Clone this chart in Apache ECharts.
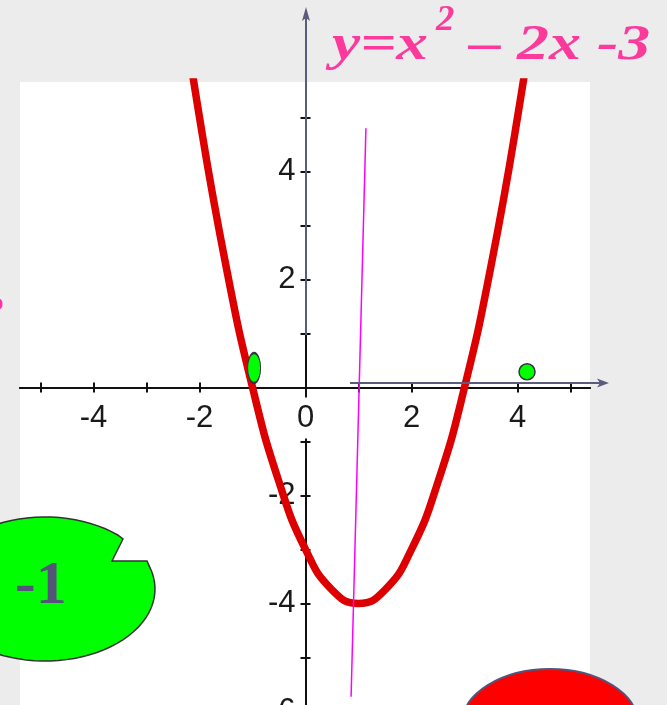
<!DOCTYPE html>
<html>
<head>
<meta charset="utf-8">
<script src="https://cdn.jsdelivr.net/npm/echarts@6/dist/echarts.min.js"></script>
<style>
  html, body { margin: 0; padding: 0; overflow: hidden; background: #ececec; }
</style>
</head>
<body>
<div id="chart" style="width: 667px; height: 760px"></div>

<script>
	// axis ticks and labels
	const xTickValues = [-5, -4, -3, -2, -1, 0, 1, 2, 3, 4, 5];
	const xLabelValues = [-4, -2, 0, 2, 4];
	const yTickValues = [-6, -5, -4, -3, -2, -1, 0, 1, 2, 3, 4, 5];
	const yLabelValues = [-6, -4, -2, 2, 4];

	// red parabola, points
	const curveX = [-2.5, -2, -1.5, -1, -0.5, 0, 0.5, 1, 1.5, 2, 2.5, 3, 3.5, 4, 4.5];
	const curveY = [8.25, 5, 2.25, 0, -1.75, -3, -3.75, -4, -3.75, -3, -1.75, 0, 2.25, 5, 8.25];

	// magenta axis of symmetry stroke
	const symX = [1.14, 0.86];
	const symY = [4.8, -5.73];

	// green markers
	const dotX = [-0.97, 4.18];
	const dotY = [0.36, 0.29];

	const zip = (a, b) => a.map((v, i) => [v, b[i]]);

	var chart = echarts.init(document.getElementById('chart'));

	var axisColor = '#111';
	var slate = '#5b5b7b';
	var pink = '#fb3a9c';
	var labelFont = { fontFamily: 'Liberation Sans', fontSize: 31, color: '#1a1a1a' };
	var gridBox = { left: 20, right: 77, top: 82, bottom: 0, outerBoundsMode: 'none', containLabel: false };
	var xMin = -5.387, xMax = 5.368, yMin = -6.9, yMax = 5.657;
	// axes cross at the origin: shift them in from the grid edges
	var xOffset = -(678 * (0 - yMin) / (yMax - yMin));
	var yOffset = -(570 * (0 - xMin) / (xMax - xMin));

	// two grids on the same box: one draws ticks below/left, the other above/right
	function xAxisDef(grid, inside, labels) {
		return {
			type: 'value', gridIndex: grid, min: xMin, max: xMax, z: labels ? 2 : 1,
			position: 'bottom', offset: xOffset,
			axisLine: { onZero: false, lineStyle: { color: axisColor, width: 2 } },
			axisTick: { inside: inside, length: 5, customValues: xTickValues, lineStyle: { color: axisColor, width: 2 } },
			axisLabel: labels ? Object.assign({
				customValues: xLabelValues, margin: 10,
				backgroundColor: '#fff', padding: [6, 3, 4, 3]
			}, labelFont) : { show: false },
			splitLine: { show: false }
		};
	}

	function yAxisDef(grid, inside, labels) {
		return {
			type: 'value', gridIndex: grid, min: yMin, max: yMax, z: 0,
			position: 'left', offset: yOffset,
			axisLine: { onZero: false, lineStyle: { color: axisColor, width: 2 } },
			axisTick: { inside: inside, length: 5, customValues: yTickValues, lineStyle: { color: axisColor, width: 2 } },
			axisLabel: labels ? Object.assign({ customValues: yLabelValues, margin: 10 }, labelFont) : { show: false },
			splitLine: { show: false }
		};
	}

	// green blob with a bite taken out of it
	function blobPoints() {
		var cx = 45, cy = 589, rx = 110, ry = 72;
		var pts = [[123, 539], [112, 561], [147, 561]];
		var a0 = Math.atan2((561 - cy) / ry, (147 - cx) / rx);
		var a1 = Math.atan2((539 - cy) / ry, (123 - cx) / rx) + 2 * Math.PI;
		for (var i = 1; i < 80; i++) {
			var a = a0 + (a1 - a0) * i / 80;
			pts.push([cx + rx * Math.cos(a), cy + ry * Math.sin(a)]);
		}
		return pts;
	}

	var option = {
		animation: false,
		backgroundColor: '#ececec',
		grid: [
			Object.assign({ show: true, backgroundColor: '#fff', borderWidth: 0 }, gridBox),
			Object.assign({ show: false }, gridBox)
		],
		xAxis: [xAxisDef(0, false, true), xAxisDef(1, true, false)],
		yAxis: [yAxisDef(0, false, true), yAxisDef(1, true, false)],
		series: [{
			type: 'line',
			data: zip(curveX, curveY),
			smooth: true,
			symbol: 'none',
			clip: true,
			z: 3,
			lineStyle: { color: '#dd0000', width: 7.5 }
		}, {
			type: 'line',
			data: zip(symX, symY),
			symbol: 'none',
			z: 4,
			lineStyle: { color: '#ff00ff', width: 1.5 }
		}, {
			type: 'scatter',
			data: zip(dotX, dotY),
			symbol: 'circle',
			symbolSize: function (v, p) { return p.dataIndex === 0 ? [13, 30] : 16; },
			z: 5,
			itemStyle: { color: '#00ff00', borderColor: '#333344', borderWidth: 1.5, opacity: 1 }
		}],
		graphic: [
			// slide arrows drawn over the axes
			{ type: 'line', z: 10, shape: { x1: 306, y1: 18, x2: 306, y2: 335 }, style: { stroke: slate, lineWidth: 2 } },
			{ type: 'polygon', z: 10, shape: { points: [[306, 7], [302, 21], [306, 18], [310, 21]] }, style: { fill: slate } },
			{ type: 'line', z: 10, shape: { x1: 350, y1: 383, x2: 600, y2: 383 }, style: { stroke: slate, lineWidth: 2 } },
			{ type: 'polygon', z: 10, shape: { points: [[609, 383], [597, 378.5], [600, 383], [597, 387.5]] }, style: { fill: slate } },
			// title
			{ type: 'text', z: 10, x: 332, y: 46, scaleX: 1.27,
				style: { text: 'y=x', font: 'italic bold 50px "Liberation Serif"', fill: pink, verticalAlign: 'middle' } },
			{ type: 'text', z: 10, x: 436, y: 21, scaleX: 1.05,
				style: { text: '2', font: 'italic bold 35px "Liberation Serif"', fill: pink, verticalAlign: 'middle' } },
			{ type: 'text', z: 10, x: 469, y: 46, scaleX: 1.28,
				style: { text: '\u2013 2x -3', font: 'italic bold 50px "Liberation Serif"', fill: pink, verticalAlign: 'middle' } },
			// green blob and its label
			{ type: 'polygon', z: 10, shape: { points: blobPoints() }, style: { fill: '#00ff00', stroke: '#333', lineWidth: 1.5 } },
			{ type: 'text', z: 11, x: 15, y: 587,
				style: { text: '-1', font: 'bold 62px "Liberation Serif"', fill: '#54547a', verticalAlign: 'middle' } },
			// red ellipse at the bottom
			{ type: 'ellipse', z: 10, shape: { cx: 550, cy: 724, rx: 88, ry: 55 }, style: { fill: '#ff0000', stroke: '#54547a', lineWidth: 2 } },
			// stray pink mark at the left edge
			{ type: 'ellipse', z: 10, shape: { cx: 0, cy: 304, rx: 2.5, ry: 5 }, style: { fill: '#ff33aa' } }
		]
	};

	chart.setOption(option);
</script>
</body>
</html>
